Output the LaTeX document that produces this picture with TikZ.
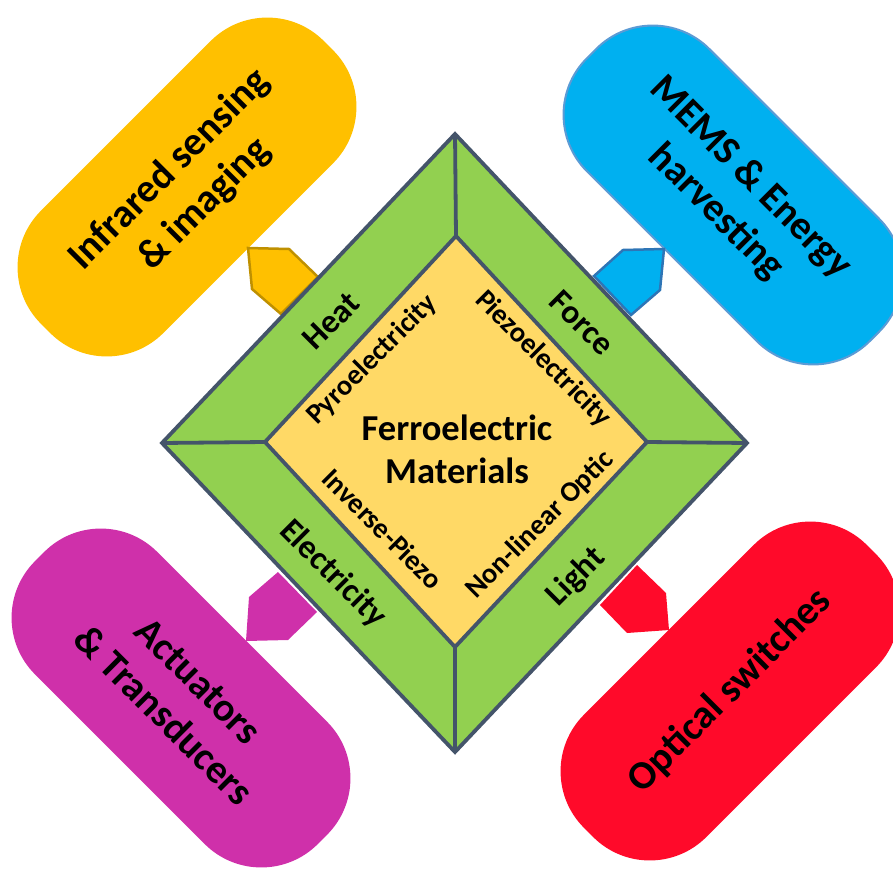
\documentclass[tikz,border=0pt]{standalone}
\usepackage{fontspec}
\setmainfont{Carlito}
\definecolor{bandgreen}{HTML}{92D050}
\definecolor{corefill}{HTML}{FFD966}
\definecolor{slate}{HTML}{44546A}
\definecolor{irgold}{HTML}{FFC000}
\definecolor{irgoldline}{HTML}{BF9000}
\definecolor{memsblue}{HTML}{00B0F0}
\definecolor{memsline}{HTML}{5B9BD5}
\definecolor{memsarrow}{HTML}{2E75B6}
\definecolor{actmagenta}{HTML}{CF30AA}
\definecolor{optred}{HTML}{FF0A2A}
\begin{document}
\begin{tikzpicture}[x=1pt,y=-1pt,
  appbox/.style={rectangle, rounded corners=80pt, minimum width=400pt,
    minimum height=173pt, inner sep=0pt, align=center,
    font=\fontsize{40}{49}\selectfont\bfseries},
  bandlabel/.style={inner sep=0pt, font=\fontsize{33.5}{38}\selectfont\bfseries},
  effectlabel/.style={inner sep=0pt, font=\fontsize{28.5}{32}\selectfont\bfseries},
  edge/.style={draw=slate, line width=3.8pt, line join=miter},
]
\useasboundingbox (0,0) rectangle (893,869);
\clip (0,0) rectangle (893,869);

% application boxes
\node[appbox, fill=irgold, rotate=45] (ir) at (187,187) {Infrared sensing\\\& imaging};
\node[appbox, fill=memsblue, draw=memsline, line width=2pt, rotate=-45] (mems) at (733,195) {MEMS \& Energy\\harvesting};
\node[appbox, fill=actmagenta, rotate=-45] (act) at (181,698) {Actuators\\\& Transducers};
\node[appbox, fill=optred, rotate=45] (opt) at (730,691) {Optical switches};

% pointers from the frame to the boxes
\filldraw[fill=irgold, draw=irgoldline, line width=2.5pt]
  (248,248) -- (289,249) -- (318,277) -- (281,314) -- (252,289) -- cycle;
\filldraw[fill=memsblue, draw=memsarrow, line width=2.5pt]
  (664,249) -- (660,290) -- (631,315) -- (594,276) -- (623,250) -- cycle;
\fill[actmagenta]
  (246,641) -- (249,597) -- (278,572) -- (317,612) -- (288,640) -- cycle;
\fill[optred]
  (669,630) -- (627,633) -- (600,605) -- (637,565) -- (666,593) -- cycle;

% framed diamond
\coordinate (ot) at (455,134);
\coordinate (or) at (747,443);
\coordinate (ob) at (455,752);
\coordinate (ol) at (162,443);
\coordinate (it) at (456,236);
\coordinate (ir2) at (647,442);
\coordinate (ib) at (455,647);
\coordinate (il) at (265,442);

\path[edge, fill=bandgreen] (ot) -- (or) -- (ob) -- (ol) -- cycle;
\path[edge, fill=corefill] (it) -- (ir2) -- (ib) -- (il) -- cycle;
\draw[edge] (ot) -- (it);
\draw[edge] (or) -- (ir2);
\draw[edge] (ob) -- (ib);
\draw[edge] (ol) -- (il);

% labels
\node[inner sep=0pt, align=center, font=\fontsize{36.5}{43}\selectfont\bfseries] (core) at (457,449) {Ferroelectric\\Materials};

\node[bandlabel, rotate=45] (heat) at (331,321) {Heat};
\node[bandlabel, rotate=-45] (force) at (582,323) {Force};
\node[bandlabel, rotate=-45] (elec) at (333,574) {Electricity};
\node[bandlabel, rotate=45] (light) at (576,577) {Light};

\node[effectlabel, rotate=45] (pyro) at (372,360) {Pyroelectricity};
\node[effectlabel, rotate=-45] (piezo) at (543,359) {Piezoelectricity};
\node[effectlabel, rotate=-45] (inv) at (383,529) {Inverse-Piezo};
\node[effectlabel, rotate=45] (nlo) at (540,525) {Non-linear Optic};
\end{tikzpicture}
\end{document}
